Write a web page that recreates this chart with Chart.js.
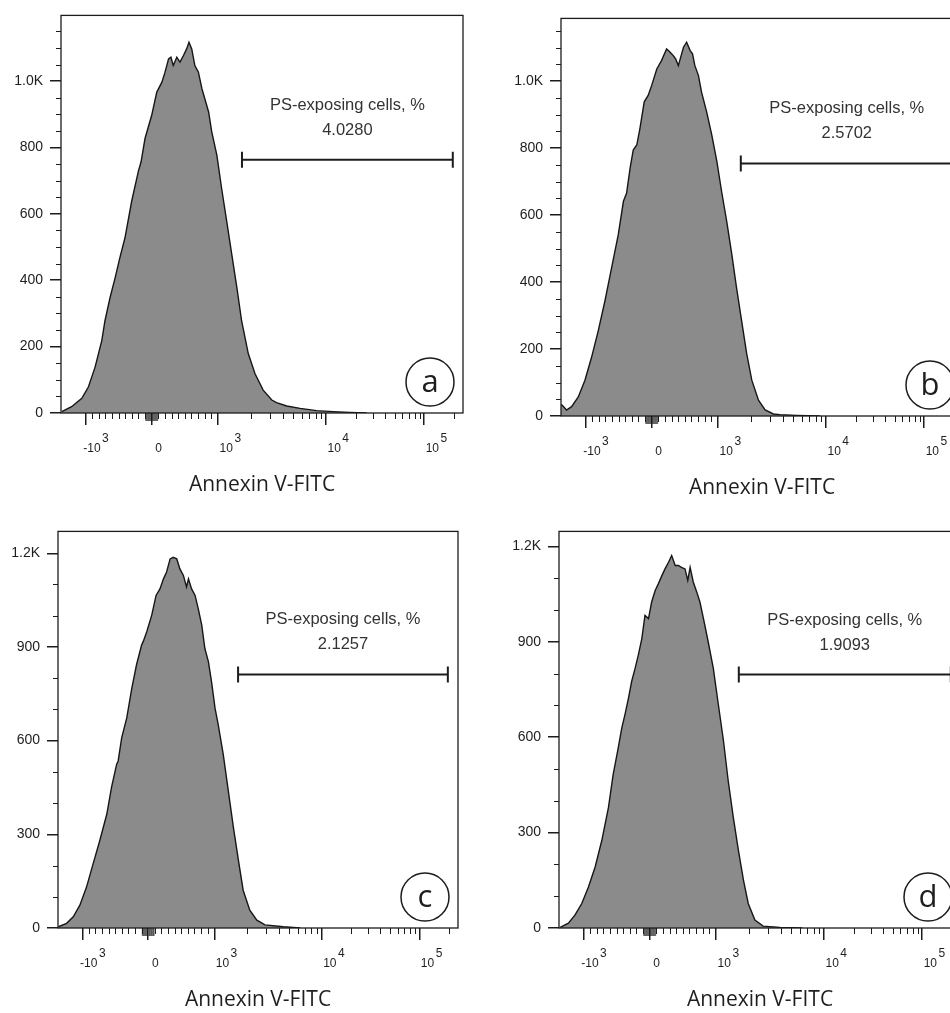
<!DOCTYPE html>
<html>
<head>
<meta charset="utf-8">
<title>Annexin V-FITC histograms</title>
<script src="https://cdn.jsdelivr.net/npm/chart.js@4.4.1/dist/chart.umd.min.js"></script>
<style>
  html, body { margin: 0; padding: 0; background: #fff; overflow: hidden; }
  body { width: 950px; height: 1013px; position: relative; }
  .panel { position: absolute; }
</style>
</head>
<body>
<div class="panel" id="p0"><canvas id="c0"></canvas></div>
<div class="panel" id="p1"><canvas id="c1"></canvas></div>
<div class="panel" id="p2"><canvas id="c2"></canvas></div>
<div class="panel" id="p3"><canvas id="c3"></canvas></div>
<script>
'use strict';

// display channel (0..1024, biexponential axis) and event count
var channelA = [2, 27, 53, 70, 87, 104, 112, 125, 138, 150, 163, 180, 197, 204, 214, 231, 244, 257, 265, 274,
                280, 286, 295, 303, 312, 320, 326, 333, 341, 350, 359, 376, 384, 397, 409, 422, 435, 448, 460, 477,
                494, 515, 537, 549, 575, 609, 651, 694, 736, 779];
var countA   = [4, 19, 44, 79, 139, 219, 278, 348, 408, 468, 528, 638, 728, 757, 827, 897, 967, 997, 1027, 1067,
                1072, 1047, 1072, 1057, 1077, 1097, 1117, 1097, 1047, 1027, 977, 907, 847, 777, 678, 578, 478, 378, 278, 179,
                119, 69, 39, 31, 21, 14, 7, 4, 2, 0];

var channelB = [0, 5, 14, 27, 44, 61, 78, 95, 112, 129, 146, 159, 167, 176, 184, 193, 201, 212, 222, 231,
                244, 256, 269, 278, 286, 292, 299, 306, 312, 320, 329, 335, 341, 350, 358, 371, 384, 397, 409, 422,
                435, 447, 460, 473, 486, 503, 520, 541, 558, 600, 660];
var countB   = [35, 30, 18, 28, 57, 107, 176, 255, 344, 443, 542, 641, 665, 740, 794, 809, 858, 938, 957, 987,
                1036, 1061, 1096, 1086, 1076, 1066, 1046, 1076, 1101, 1116, 1091, 1081, 1046, 1017, 967, 908, 839, 760, 671, 582,
                483, 384, 285, 186, 107, 47, 18, 6, 4, 2, 0];

var channelC = [1, 22, 39, 56, 73, 90, 107, 125, 137, 150, 154, 163, 176, 189, 201, 214, 218, 227, 240, 251,
                261, 270, 278, 287, 295, 304, 312, 321, 329, 334, 342, 351, 359, 368, 376, 385, 393, 402, 410, 423,
                436, 449, 462, 474, 491, 509, 530, 577, 620];
var countC   = [4, 15, 36, 73, 131, 206, 280, 365, 450, 524, 535, 609, 673, 768, 843, 906, 917, 948, 1002, 1065,
                1086, 1118, 1140, 1182, 1187, 1182, 1150, 1129, 1092, 1118, 1086, 1065, 1023, 970, 895, 853, 789, 704, 652, 556,
                439, 322, 216, 121, 57, 25, 10, 4, 0];

var channelD = [3, 24, 41, 58, 75, 92, 109, 126, 138, 151, 160, 168, 177, 185, 194, 202, 211, 219, 228, 236,
                245, 253, 262, 270, 279, 287, 296, 304, 312, 321, 328, 334, 342, 351, 359, 368, 380, 393, 406, 419,
                431, 444, 457, 470, 482, 499, 520, 563, 620];
var countD   = [2, 15, 41, 77, 129, 192, 275, 379, 483, 567, 629, 671, 723, 775, 817, 858, 910, 983, 973, 1025,
                1061, 1082, 1108, 1129, 1150, 1171, 1140, 1140, 1134, 1129, 1093, 1134, 1088, 1056, 1025, 973, 900, 817, 702, 588,
                463, 348, 244, 150, 77, 25, 6, 2, 0];

var panelLetters = ['a', 'b', 'c', 'd'];
var gateValues = ['4.0280', '2.5702', '2.1257', '1.9093'];
var gateStart = [461, 458, 461, 458];
var gateEnd = [998, 998, 998, 998];
var gateLevel = [763, 754, 812, 797];
var yMax = [1198, 1187, 1270, 1247];
var yMajorAB = [0, 200, 400, 600, 800, 1000];
var yMajorCD = [0, 300, 600, 900, 1200];
var yMinorStep = [50, 50, 100, 100];
var xTickChannels = [63, 231, 400, 675, 925];
var xTickBase = ['-10', '0', '10', '10', '10'];
var xTickExp = ['3', '', '3', '4', '5'];
var gateTitle = 'PS-exposing cells, %';
var axisTitle = 'Annexin V-FITC';

// plot frame of each panel on the page: left, top, right, bottom
var frames = [[61, 13, 463, 413], [561, 16, 963, 416], [58, 529, 458, 928], [559, 529, 961, 928]];
var Y_AXIS_W = 61, X_AXIS_H = 92, PAD_TOP = 13, PAD_RIGHT = 17;

var channels = [channelA, channelB, channelC, channelD];
var counts = [countA, countB, countC, countD];

// fluorescence value -> display channel, pinned to the labelled ticks
function channelOf(v) {
    var lin = (xTickChannels[2] - xTickChannels[1]) / 1000;
    if (Math.abs(v) <= 1000) {
        return xTickChannels[1] + v * lin;
    }
    if (v <= 1e4) {
        return xTickChannels[2] + (Math.log10(v) - 3) * (xTickChannels[3] - xTickChannels[2]);
    }
    return xTickChannels[3] + (Math.log10(v) - 4) * (xTickChannels[4] - xTickChannels[3]);
}

var xMinorValues = [];
[10, 100].forEach(function (step) {
    for (var k = 1; k <= 9; k++) {
        xMinorValues.push(k * step, -k * step);
    }
});
[1000, 10000].forEach(function (step) {
    for (var k = 2; k <= 9; k++) {
        xMinorValues.push(k * step);
    }
});
xMinorValues.push(200000);

function yLabel(v) {
    return v >= 1000 ? (v / 1000).toFixed(1) + 'K' : String(v);
}

function decor(i) {
    var majors = i < 2 ? yMajorAB : yMajorCD;
    return {
        id: 'decor' + i,
        afterDraw: function (chart) {
            var c = chart.ctx;
            var a = chart.chartArea;
            var xs = chart.scales.x;
            var ys = chart.scales.y;
            var v, y, x;
            c.save();

            // frame
            c.strokeStyle = '#1c1c1c';
            c.lineWidth = 1.3;
            c.strokeRect(a.left, a.top, a.right - a.left, a.bottom - a.top);

            // minor ticks
            c.lineWidth = 1;
            c.beginPath();
            for (v = yMinorStep[i]; v < yMax[i]; v += yMinorStep[i]) {
                if (majors.indexOf(v) >= 0) continue;
                y = Math.round(ys.getPixelForValue(v)) + 0.5;
                c.moveTo(a.left - 5, y);
                c.lineTo(a.left, y);
            }
            xMinorValues.forEach(function (val) {
                var ch = channelOf(val);
                if (ch < 0 || ch > 1024 || Math.abs(val) < 100) return;
                var px = Math.round(xs.getPixelForValue(ch)) + 0.5;
                c.moveTo(px, a.bottom);
                c.lineTo(px, a.bottom + 6);
            });
            c.stroke();
            // dense ticks around zero
            c.lineWidth = 0.6;
            c.beginPath();
            xMinorValues.forEach(function (val) {
                if (Math.abs(val) >= 100) return;
                var px = xs.getPixelForValue(channelOf(val));
                c.moveTo(px, a.bottom);
                c.lineTo(px, a.bottom + 8);
            });
            c.stroke();

            // x tick labels with raised exponents
            c.fillStyle = '#1e1e1e';
            c.font = '12px "Liberation Sans", Arial, sans-serif';
            c.textBaseline = 'alphabetic';
            var w10 = c.measureText('10').width;
            xTickChannels.forEach(function (ch, k) {
                x = xs.getPixelForValue(ch);
                if (!xTickExp[k]) {
                    c.textAlign = 'center';
                    c.fillText(xTickBase[k], x + 7, a.bottom + 39);
                    return;
                }
                c.textAlign = 'right';
                c.fillText(xTickBase[k], x + 1.5 + w10, a.bottom + 39);
                c.textAlign = 'left';
                c.fillText(xTickExp[k], x + 3 + w10, a.bottom + 29);
            });

            // gate bar
            var gy = ys.getPixelForValue(gateLevel[i]);
            var gx1 = xs.getPixelForValue(gateStart[i]);
            var gx2 = xs.getPixelForValue(gateEnd[i]);
            c.strokeStyle = '#1c1c1c';
            c.lineWidth = 2;
            c.beginPath();
            c.moveTo(gx1, gy); c.lineTo(gx2, gy);
            c.moveTo(gx1, gy - 8); c.lineTo(gx1, gy + 8);
            c.moveTo(gx2, gy - 8); c.lineTo(gx2, gy + 8);
            c.stroke();
            c.fillStyle = '#333';
            c.font = '16.5px "Liberation Sans", Arial, sans-serif';
            c.textAlign = 'center';
            c.fillText(gateTitle, (gx1 + gx2) / 2, gy - 50);
            c.fillText(gateValues[i], (gx1 + gx2) / 2, gy - 25);

            // panel letter in a circle
            var cx = a.right - 33, cy = a.bottom - 31;
            c.lineWidth = 1.5;
            c.beginPath();
            c.arc(cx, cy, 24, 0, Math.PI * 2);
            c.stroke();
            c.fillStyle = '#1e1e1e';
            c.font = '31px "Open Sans", sans-serif';
            c.fillText(panelLetters[i], cx, cy + 10);

            c.restore();
        }
    };
}

frames.forEach(function (f, i) {
    var box = document.getElementById('p' + i);
    box.style.left = (f[0] - Y_AXIS_W) + 'px';
    box.style.top = (f[1] - PAD_TOP) + 'px';
    box.style.width = (f[2] - f[0] + Y_AXIS_W + PAD_RIGHT) + 'px';
    box.style.height = (f[3] - f[1] + PAD_TOP + X_AXIS_H) + 'px';

    var majors = i < 2 ? yMajorAB : yMajorCD;
    var points = channels[i].map(function (ch, k) {
        return { x: ch, y: counts[i][k] };
    });

    new Chart(document.getElementById('c' + i), {
        type: 'line',
        data: {
            datasets: [{
                data: points,
                fill: 'origin',
                backgroundColor: '#8b8b8b',
                borderColor: '#161616',
                borderWidth: 1.4,
                pointRadius: 0,
                tension: 0
            }]
        },
        options: {
            responsive: true,
            maintainAspectRatio: false,
            animation: false,
            events: [],
            layout: {
                padding: { top: PAD_TOP, right: PAD_RIGHT, left: 0, bottom: 0 }
            },
            plugins: {
                legend: { display: false },
                tooltip: { enabled: false }
            },
            scales: {
                x: {
                    type: 'linear',
                    min: 0,
                    max: 1024,
                    afterBuildTicks: function (scale) {
                        scale.ticks = xTickChannels.map(function (v) { return { value: v }; });
                    },
                    afterFit: function (scale) { scale.height = X_AXIS_H; },
                    grid: {
                        drawOnChartArea: false,
                        tickLength: 12,
                        color: '#1c1c1c',
                        lineWidth: 1.5
                    },
                    border: { display: false },
                    ticks: { display: false },
                    title: {
                        display: true,
                        text: axisTitle,
                        color: '#1e1e1e',
                        font: { family: '"Open Sans", sans-serif', size: 21 },
                        padding: { top: 0, bottom: 7 }
                    }
                },
                y: {
                    min: 0,
                    max: yMax[i],
                    afterBuildTicks: function (scale) {
                        scale.ticks = majors.map(function (v) { return { value: v }; });
                    },
                    afterFit: function (scale) { scale.width = Y_AXIS_W; },
                    grid: {
                        drawOnChartArea: false,
                        tickLength: 11,
                        color: '#1c1c1c',
                        lineWidth: 1.5
                    },
                    border: { display: false },
                    ticks: {
                        callback: function (value) { return yLabel(value); },
                        padding: 7,
                        color: '#1e1e1e',
                        font: { family: '"Liberation Sans", Arial, sans-serif', size: 14 }
                    }
                }
            }
        },
        plugins: [decor(i)]
    });
});
</script>
</body>
</html>
